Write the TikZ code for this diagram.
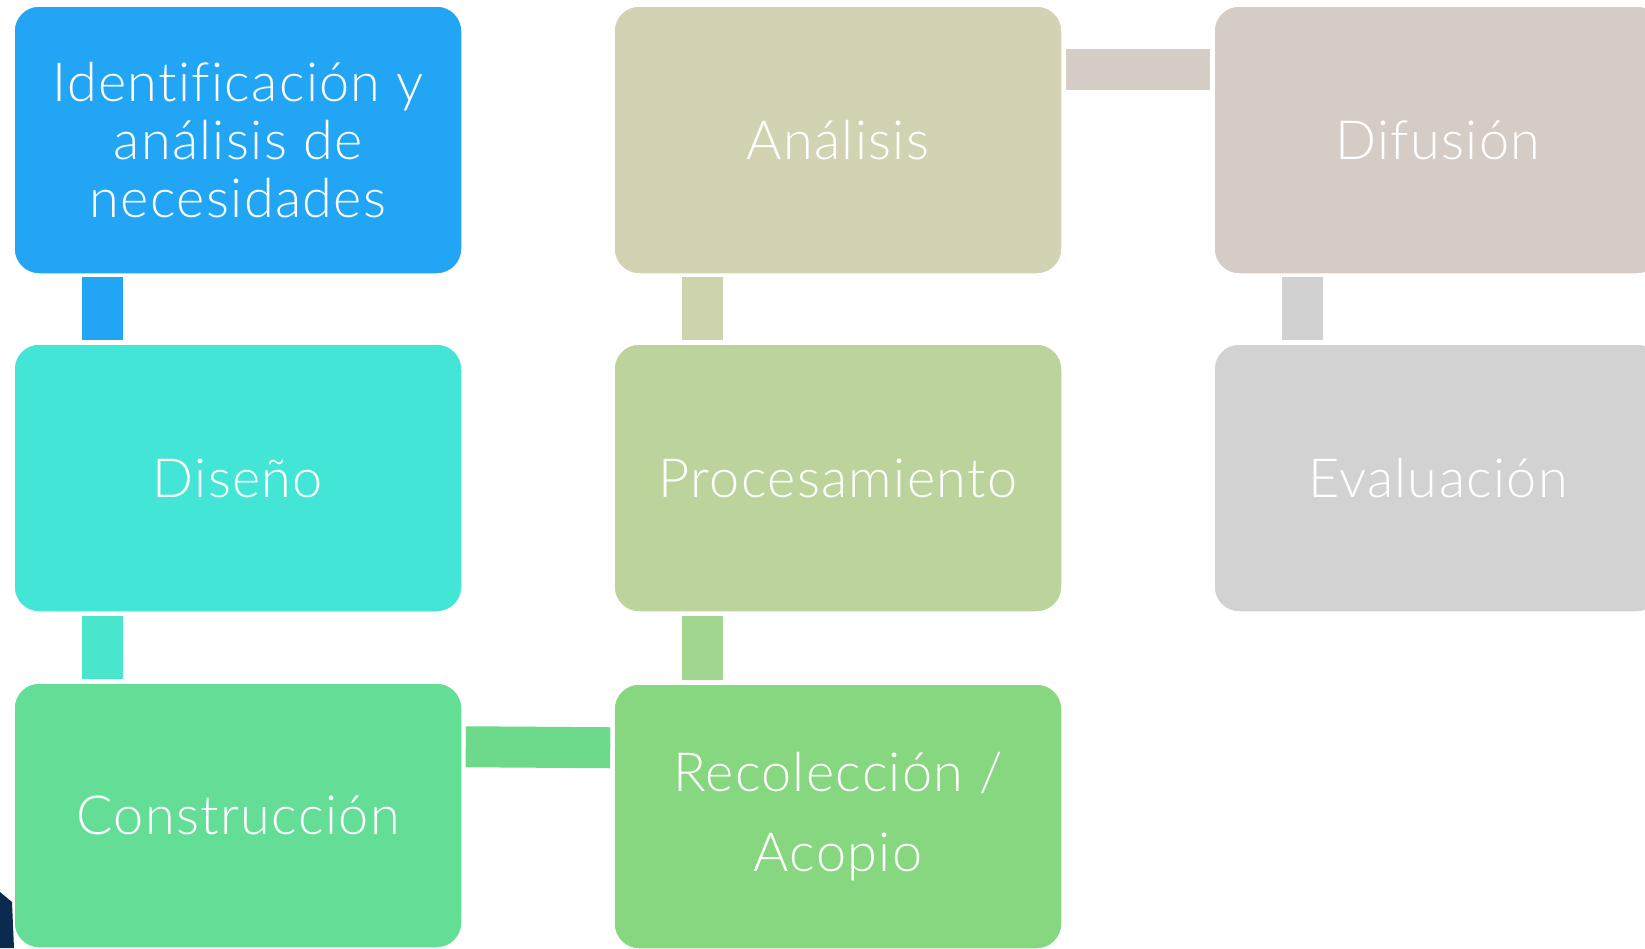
\documentclass[tikz,border=0pt]{standalone}
\usepackage{fontspec}
\setmainfont{Lato}[UprightFont={* Light}, LetterSpace=2.5, Ligatures=NoCommon]
\usetikzlibrary{calc}
\definecolor{cA}{HTML}{22A5F4}
\definecolor{cB}{HTML}{43E6D6}
\definecolor{cBB}{HTML}{4AE6CB}
\definecolor{cC}{HTML}{64DE97}
\definecolor{cCD}{HTML}{6CD98B}
\definecolor{cD}{HTML}{87D780}
\definecolor{cDE}{HTML}{A2D58F}
\definecolor{cE}{HTML}{BCD49C}
\definecolor{cEF}{HTML}{CDD3AD}
\definecolor{cF}{HTML}{D3D3B3}
\definecolor{cFG}{HTML}{D5CEC6}
\definecolor{cG}{HTML}{D5CCC6}
\definecolor{cGH}{HTML}{D1D1D1}
\definecolor{cH}{HTML}{D2D2D2}
\definecolor{navy}{HTML}{0B2A50}
\tikzset{
  stage/.style={rectangle, rounded corners=25pt, draw=white, line width=1.5pt,
    minimum width=448pt, minimum height=268pt, inner sep=0pt, text=white,
    align=center, font=\fontsize{54}{58}\selectfont},
  link/.style={line width=41pt}
}
\begin{document}
\begin{tikzpicture}[x=1pt,y=-1pt]
\useasboundingbox (0,0) rectangle (1645,948);
\clip (0,0) rectangle (1645,948);
\fill[navy] (0,892) -- (12,902) -- (14,948) -- (0,948) -- cycle;
\node[stage, fill=cA] (id) at (238,140) {Identificación y\\análisis de\\necesidades};
\node[stage, fill=cB] (dis) at (238,478) {Diseño};
\node[stage, fill=cC, minimum height=265pt] (con) at (238,815.5) {Construcción};
\node[stage, fill=cD, minimum height=265pt] (rec) at (838,816.5) {Recolección /\\[22pt]Acopio};
\node[stage, fill=cE] (pro) at (838,478) {Procesamiento};
\node[stage, fill=cF] (ana) at (838,140) {Análisis};
\node[stage, fill=cG] (dif) at (1438,140) {Difusión};
\node[stage, fill=cH] (eva) at (1438,478) {Evaluación};
% connectors
\draw[link, cA] ($(id.south west)+(89.5,2)$) -- ($(dis.north west)+(89.5,-3)$);
\draw[link, cBB] ($(dis.south west)+(89.5,3)$) -- ($(con.north west)+(89.5,-3)$);
\draw[link, cCD] ($(con.north east)+(3,64.5)$) -- ($(rec.north west)+(-3,64.5)$);
\draw[link, cDE] ($(rec.north west)+(89.5,-3)$) -- ($(pro.south west)+(89.5,3)$);
\draw[link, cEF] ($(pro.north west)+(89.5,-3)$) -- ($(ana.south west)+(89.5,2)$);
\draw[link, cFG] ($(ana.north east)+(3,64.5)$) -- ($(dif.north west)+(-3,64.5)$);
\draw[link, cGH] ($(dif.south west)+(89.5,2)$) -- ($(eva.north west)+(89.5,-3)$);
\end{tikzpicture}
\end{document}
